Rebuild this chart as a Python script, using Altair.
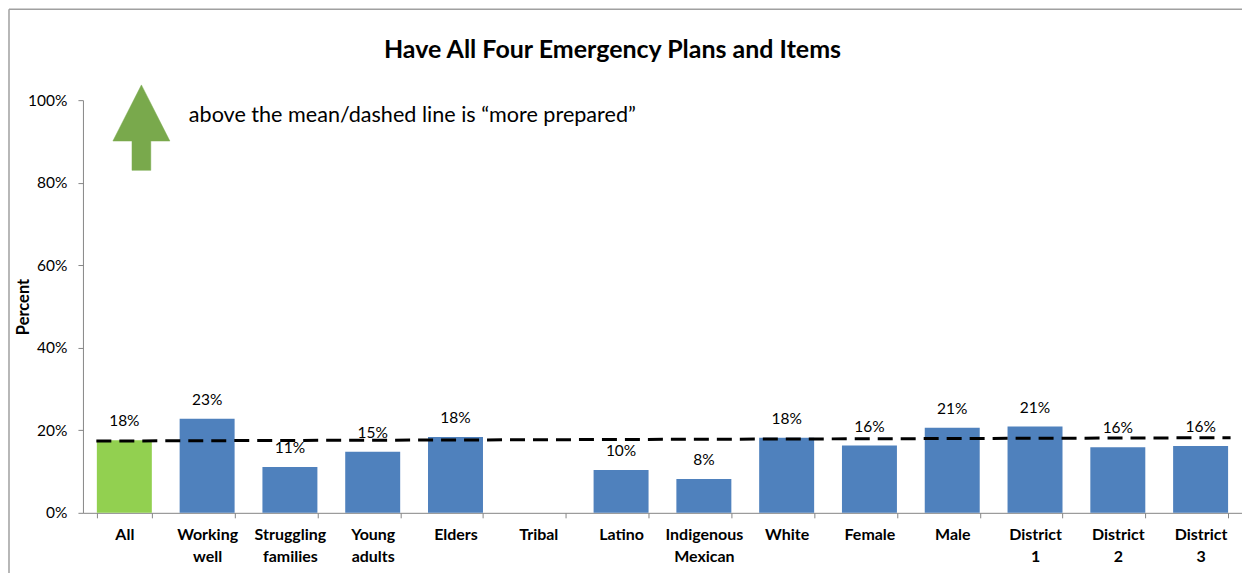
import altair as alt
import pandas as pd

categories = ["All", "Working well", "Struggling families", "Young adults", "Elders",
              "Tribal", "Latino", "Indigenous Mexican", "White", "Female", "Male",
              "District 1", "District 2", "District 3"]
values = [17.6, 22.8, 11.1, 14.8, 18.4, None, 10.4, 8.2, 18.2, 16.3, 20.6, 20.9, 15.9, 16.2]
highlight = ["All"]

mean_from = ["All"]
mean_to = ["District 3"]
mean_start = [17.4]
mean_end = [18.2]

title_text = ["Have All Four Emergency Plans and Items"]
note_text = ["above the mean/dashed line is \u201cmore prepared\u201d"]
y_ticks = [0, 20, 40, 60, 80, 100]

FONT = "Lato"
BLUE = "#4F81BD"
GREEN = "#92D050"
AXIS_GRAY = "#868686"

df = pd.DataFrame({"cat": categories, "value": values})
df["grp"] = ["hi" if c in highlight else "lo" for c in categories]
mean_df = pd.DataFrame({"c1": mean_from, "c2": mean_to, "v1": mean_start, "v2": mean_end})
note_df = pd.DataFrame({"t": note_text})
title_df = pd.DataFrame({"t": title_text})

xscale = alt.Scale(domain=categories, paddingInner=0.336, paddingOuter=0.168)
yscale = alt.Scale(domain=[0, 100])

x_enc = alt.X("cat:N", scale=xscale, sort=categories, title=None,
              axis=alt.Axis(labelAngle=0, labelExpr="split(datum.label, ' ')",
                            labelFont=FONT, labelFontSize=16, labelFontWeight="bold",
                            labelColor="black", labelLineHeight=22, labelPadding=9,
                            tickBand="extent", tickSize=5, tickColor=AXIS_GRAY,
                            domainColor=AXIS_GRAY, labelBaseline="top"))
y_enc = alt.Y("value:Q", scale=yscale, title="Percent",
              axis=alt.Axis(values=y_ticks, labelExpr="datum.value + '%'",
                            labelFont=FONT, labelFontSize=15.5, labelColor="black",
                            titleFont=FONT, titleFontSize=16.5, titleFontWeight="bold",
                            titleColor="black", titlePadding=-4,
                            grid=False, tickSize=5, tickColor=AXIS_GRAY,
                            domainColor=AXIS_GRAY, labelPadding=11))

bars = alt.Chart(df).mark_bar().encode(
    x=x_enc,
    y=y_enc,
    color=alt.Color("grp:N", scale=alt.Scale(domain=["hi", "lo"], range=[GREEN, BLUE]), legend=None),
)

labels = alt.Chart(df).transform_filter("isValid(datum.value)").transform_calculate(
    lab="format(datum.value, '.0f') + '%'"
).mark_text(font=FONT, fontSize=15.5, color="black", baseline="middle", dy=-19).encode(
    x=alt.X("cat:N", scale=xscale, sort=categories),
    y=alt.Y("value:Q", scale=yscale),
    text="lab:N",
)

mean_line = alt.Chart(mean_df).mark_rule(
    color="black", strokeWidth=3, strokeDash=[15, 8], xOffset=-28, x2Offset=30
).encode(
    x=alt.X("c1:N", scale=xscale),
    x2="c2:N",
    y=alt.Y("v1:Q", scale=yscale),
    y2="v2:Q",
)

arrow_path = "M0,-1.5L1,0.47L0.33,0.47L0.33,1.5L-0.33,1.5L-0.33,0.47L-1,0.47Z"
arrow = alt.Chart(note_df).mark_point(
    shape=arrow_path, filled=True, fill="#79A94C", stroke="#79A94C", strokeWidth=0.5,
    opacity=1, size=57 * 57
).encode(x=alt.value(58.5), y=alt.value(27.5))

note = alt.Chart(note_df).mark_text(
    font=FONT, fontSize=21.6, color="black", align="left", baseline="middle"
).encode(x=alt.value(106), y=alt.value(16), text="t:N")

title = alt.Chart(title_df).mark_text(
    font=FONT, fontSize=25, fontWeight="bold", color="black", align="center", baseline="middle"
).encode(x=alt.value(530), y=alt.value(-50), text="t:N")

frame_top = alt.Chart(note_df).mark_rule(color="#A0A0A0", strokeWidth=1.5).encode(
    x=alt.value(-74), x2=alt.value(1167), y=alt.value(-91))
frame_left = alt.Chart(note_df).mark_rule(color="#A0A0A0", strokeWidth=1.5).encode(
    x=alt.value(-74), y=alt.value(-91), y2=alt.value(475))

chart = alt.layer(frame_top, frame_left, bars, mean_line, labels, arrow, note, title).properties(
    width=1160,
    height=413,
    padding={"left": 75, "top": 92, "right": 0, "bottom": 60},
    autosize=alt.AutoSizeParams(type="none"),
).configure(background="white").configure_view(stroke=None)

chart.save("out.html", embed_options={"renderer": "svg", "actions": False})
